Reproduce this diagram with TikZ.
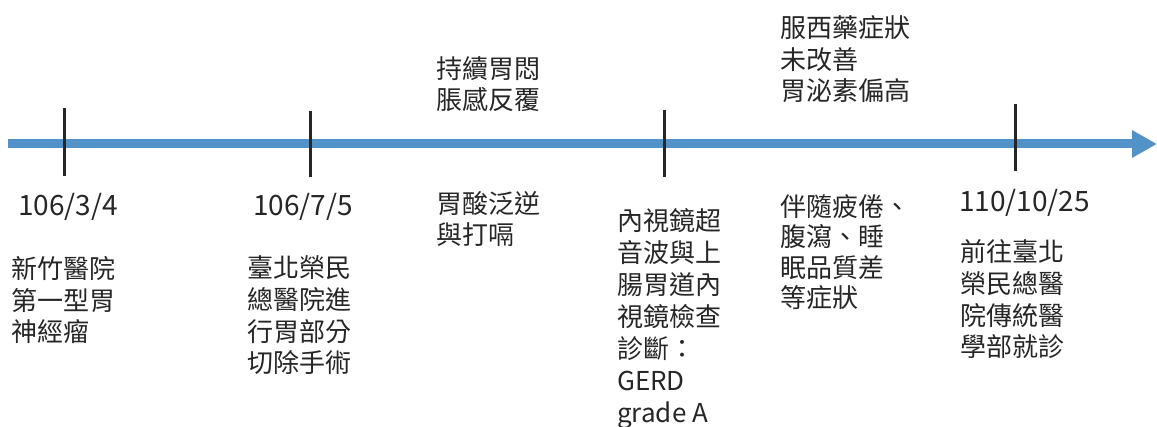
\documentclass[tikz,border=0pt]{standalone}
\usepackage{fontspec}
\newfontfamily\cjk{Noto Sans CJK TC}
\usetikzlibrary{arrows.meta}
\definecolor{axisblue}{RGB}{83,145,201}
\definecolor{txt}{RGB}{38,38,38}
\tikzset{
  lbl/.style={anchor=base west, inner sep=0pt, align=left, text=txt,
              font=\cjk\fontsize{26}{31.7}\selectfont},
  datelbl/.style={lbl, font=\cjk\fontsize{28}{32}\selectfont},
  tick/.style={draw=txt, line width=3pt},
  axis/.style={draw=axisblue, line width=9pt,
               -{Triangle[length=25pt,width=26pt]}, fill=axisblue}
}
\begin{document}
\begin{tikzpicture}[x=1pt,y=1pt]
\useasboundingbox (0,0) rectangle (1157,426);
% axis
\coordinate (start) at (8,282);
\coordinate (end) at (1157,282);
\draw[axis] (start) -- (end);
% ticks
\coordinate (t1a) at (64,318); \coordinate (t1b) at (64,250);
\coordinate (t2a) at (310,315); \coordinate (t2b) at (310,249);
\coordinate (t3a) at (664,316); \coordinate (t3b) at (664,249);
\coordinate (t4a) at (1015,322); \coordinate (t4b) at (1015,255);
\draw[tick] (t1a) -- (t1b);
\draw[tick] (t2a) -- (t2b);
\draw[tick] (t3a) -- (t3b);
\draw[tick] (t4a) -- (t4b);
% labels (base anchor = baseline of last line)
\node[datelbl] (d1) at (18,210) {106/3/4};
\node[lbl] (e1) at (11,84) {新竹醫院\\第一型胃\\神經瘤};
\node[datelbl] (d2) at (253,210) {106/7/5};
\node[lbl] (e2) at (247,53) {臺北榮民\\總醫院進\\行胃部分\\切除手術};
\node[lbl] (u3) at (436,316) {持續胃悶\\脹感反覆};
\node[lbl] (e3) at (436,181) {胃酸泛逆\\與打嗝};
\node[lbl,font=\cjk\fontsize{26}{32}\selectfont] (e4) at (617,4) {內視鏡超\\音波與上\\腸胃道內\\視鏡檢查\\診斷：\\GERD\\grade A};
\node[lbl] (u5) at (780,325) {服西藥症狀\\未改善\\胃泌素偏高};
\node[lbl,font=\cjk\fontsize{26}{30.5}\selectfont] (e5) at (780,118) {伴隨疲倦、\\腹瀉、睡\\眠品質差\\等症狀};
\node[datelbl] (d6) at (959,214) {110/10/25};
\node[lbl] (e6) at (960,69) {前往臺北\\榮民總醫\\院傳統醫\\學部就診};
\end{tikzpicture}
\end{document}
